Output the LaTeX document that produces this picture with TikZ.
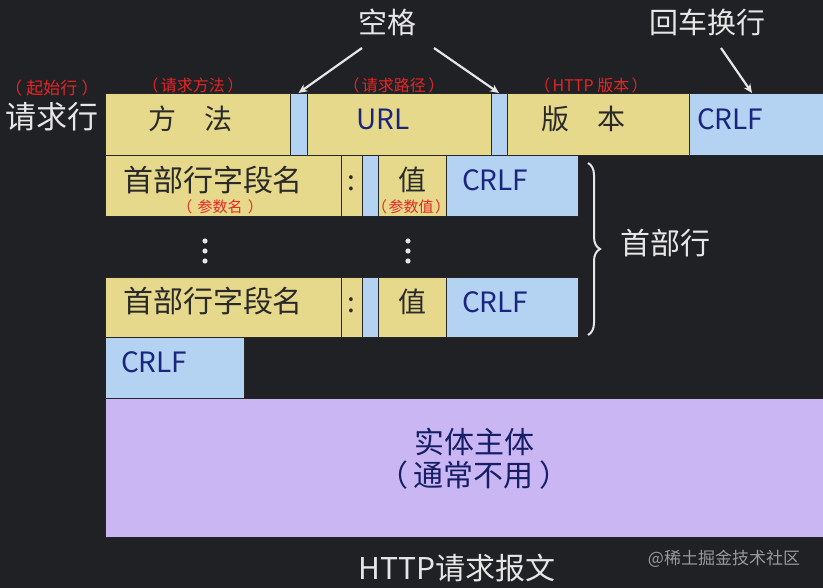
\documentclass[tikz,border=0pt]{standalone}
\usepackage{fontspec}
\setmainfont{Noto Sans CJK SC}
\usetikzlibrary{decorations.pathreplacing,arrows.meta}
\definecolor{bg}{HTML}{1F2125}
\definecolor{byel}{HTML}{E6D98C}
\definecolor{bblue}{HTML}{B4D2F2}
\definecolor{bpur}{HTML}{C9B6F2}
\definecolor{navy}{HTML}{1A2580}
\definecolor{ink}{HTML}{2A2A2A}
\definecolor{redl}{HTML}{E82424}
\definecolor{wtxt}{HTML}{E6E6E6}
\newcommand{\fsz}[1]{\fontsize{#1}{#1}\selectfont}
\newcommand{\lsh}[1]{\hspace*{#1}}
\tikzset{
  cell/.style={draw=black!85, line width=0.8pt, anchor=north west, inner sep=0pt, outer sep=0pt, text height=20pt, text depth=9pt},
  ycell/.style={cell, fill=byel, text=ink, font=\fsz{28}},
  bcell/.style={cell, fill=bblue, text=navy, font=\fsz{28}},
  crlfcell/.style={bcell, align=left, inner xsep=16pt, text width=#1},
  namecell/.style={ycell, font=\fsz{30}, text height=21pt, text depth=9pt},
  redlab/.style={text=redl, font=\fsz{16}, inner sep=0pt},
  whitelab/.style={text=wtxt, font=\fsz{29}, inner sep=0pt},
  pointer/.style={draw=wtxt, line width=2.2pt, -{Stealth[length=9pt,width=8pt]}},
}
\begin{document}
\begin{tikzpicture}[x=1pt,y=-1pt]
\fill[bg] (0,0) rectangle (823,588);
\useasboundingbox (0,0) rectangle (823,588);
% request line
\node[ycell, minimum width=185pt, minimum height=62pt] (m) at (105,93) {方\hspace{1em}法\lsh{14pt}};
\node[bcell, minimum width=17pt, minimum height=62pt] (s1) at (290,93) {};
\node[ycell, text=navy, minimum width=184pt, minimum height=62pt] (u) at (307,93) {URL\lsh{32pt}};
\node[bcell, minimum width=16pt, minimum height=62pt] (s2) at (491,93) {};
\node[ycell, minimum width=182pt, minimum height=62pt] (v) at (507,93) {版\hspace{1em}本\lsh{30pt}};
\node[bcell, align=left, inner xsep=8pt, text width=118pt, minimum height=62pt] (c1) at (689,93) {CRLF};
% header line 1
\node[namecell, minimum width=236pt, minimum height=61pt] (h1) at (105,155) {首部行字段名\lsh{20pt}};
\node[ycell, minimum width=21pt, minimum height=61pt] (k1) at (341,155) {:};
\node[bcell, minimum width=16pt, minimum height=61pt] (p1) at (362,155) {};
\node[ycell, minimum width=68pt, minimum height=61pt] (w1) at (378,155) {值};
\node[crlfcell=100pt, minimum height=61pt] (c2) at (446,155) {CRLF};
% header line n
\node[namecell, minimum width=236pt, minimum height=60pt] (h2) at (105,277) {首部行字段名\lsh{20pt}};
\node[ycell, minimum width=21pt, minimum height=60pt] (k2) at (341,277) {:};
\node[bcell, minimum width=16pt, minimum height=60pt] (p2) at (362,277) {};
\node[ycell, minimum width=68pt, minimum height=60pt] (w2) at (378,277) {值};
\node[crlfcell=100pt, minimum height=60pt] (c3) at (446,277) {CRLF};
% blank line
\node[crlfcell=107pt, minimum height=61pt] (c4) at (105,337) {CRLF};
% body
\node[cell, fill=bpur, minimum width=718pt, minimum height=139pt] (body) at (105,398) {};
\node[text=navy!80!black, font=\fsz{30}, align=center, inner sep=0pt] (bt) at (474,459) {实体主体\\[3pt]（\hspace{0.2em}通常不用\hspace{0.2em}）};
% ellipsis dots
\foreach \xx in {205,408}{
  \foreach \yy in {241,251,261}{
    \fill[wtxt] (\xx,\yy) circle (2.6pt);
  }
}
% brace
\draw[wtxt, line width=2pt, decorate, decoration={brace, amplitude=12pt}] (588,163) -- (588,335);
\node[whitelab, font=\fsz{30}, anchor=west] (hdr) at (620,243) {首部行};
% labels
\node[whitelab, font=\fsz{31}] (rl) at (52,117) {请求行};
\node[redlab, font=\fsz{17}] (l0) at (52,88) {（\hspace{0.25em}起始行\hspace{0.25em}）};
\node[redlab] (l1) at (193,85) {（\hspace{0.15em}请求方法\hspace{0.15em}）};
\node[redlab] (l2) at (394,85) {（\hspace{0.15em}请求路径\hspace{0.15em}）};
\node[redlab] (l3) at (591,85) {（\hspace{0.15em}HTTP 版本\hspace{0.15em}）};
\node[redlab, font=\fsz{15}] (l4) at (220,207) {（\hspace{0.35em}参数名\hspace{0.35em}）};
\node[redlab, font=\fsz{15}] (l5) at (411,207) {（\hspace{0.1em}参数值\hspace{0.1em}）};
\node[whitelab] (sp) at (387,22) {空格};
\node[whitelab] (cr) at (707,22) {回车换行};
\coordinate (a1s) at (362,48);
\coordinate (a2s) at (434,48);
\coordinate (a3s) at (721,48);
\draw[pointer] (a1s) -- (s1.north);
\draw[pointer] (a2s) -- (s2.north);
\draw[pointer] (a3s) -- (c1.north -| 752,93);
% caption
\node[text=wtxt, font=\fsz{30}, inner sep=0pt] (cap) at (457,568) {HTTP请求报文};
\node[text=gray!80, font=\fsz{17}, inner sep=0pt] (wm) at (724,559) {@稀土掘金技术社区};
\end{tikzpicture}
\end{document}
